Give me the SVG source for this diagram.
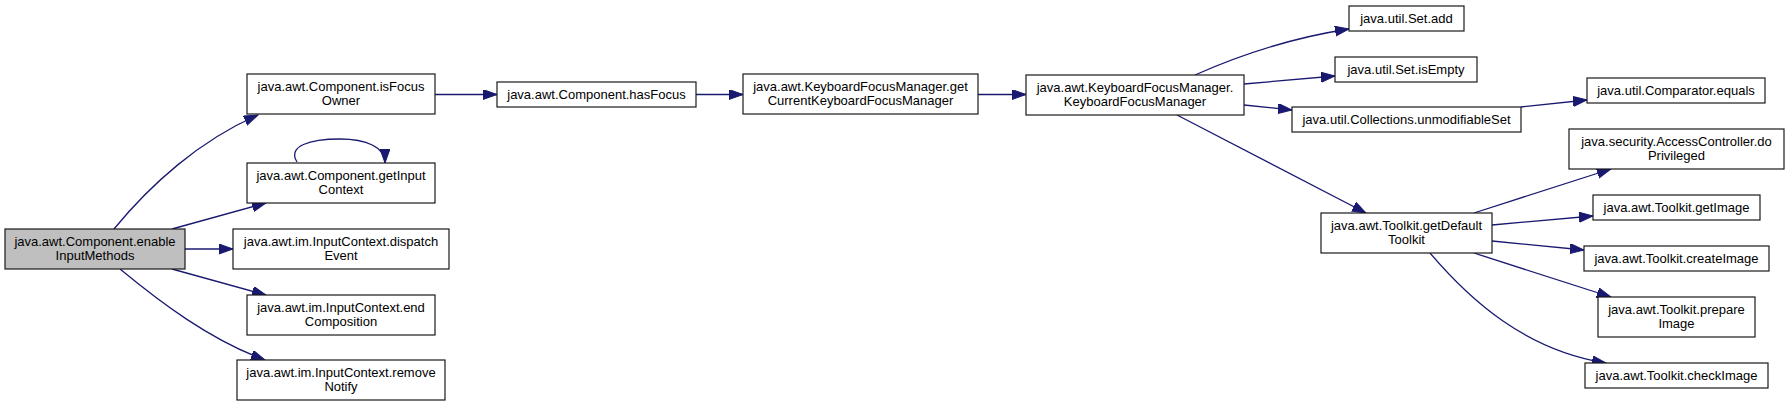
<svg xmlns="http://www.w3.org/2000/svg" width="1789" height="406" viewBox="0 0 1789 406">
<defs>
<style>
.n rect{fill:#ffffff;stroke:#1a1a1a;stroke-width:1.2}
.n.root rect{fill:#bfbfbf}
.n text{font-family:"Liberation Sans",Arial,sans-serif;font-size:13px;text-anchor:middle;fill:#000000}
.e path{fill:none;stroke:#191970;stroke-width:1.3;marker-end:url(#ah)}
</style>
<marker id="ah" markerUnits="userSpaceOnUse" markerWidth="15" markerHeight="11" refX="14" refY="5" orient="auto">
<path d="M0,0 L14,5 L0,10 z" fill="#191970" stroke="#191970" stroke-width="1"/>
</marker>
</defs>
<rect width="1789" height="406" fill="#ffffff"/>
<g id="edges" class="e">
<path d="M114,229 C150,185 200,140 258,115"/>
<path d="M172,229 L266,203"/>
<path d="M185,249 L233,249"/>
<path d="M172,269 L266,295"/>
<path d="M120,269 C160,302 210,340 265,360"/>
<path d="M297,162 C287,146 310,139 340,139 C366,139 385,147 385,163"/>
<path d="M435,94.5 L497,94.5"/>
<path d="M696,94.5 L743,94.5"/>
<path d="M978,94.5 L1026,94.5"/>
<path d="M1195,75 C1240,55 1290,38 1349,29"/>
<path d="M1244,84 L1335,76"/>
<path d="M1244,105 L1292,110"/>
<path d="M1521,107 L1587,100"/>
<path d="M1177,115 L1366,213"/>
<path d="M1474,213 L1611,169"/>
<path d="M1492,225 L1593,216"/>
<path d="M1492,241 L1584,250"/>
<path d="M1474,253 L1611,297"/>
<path d="M1430,253 C1470,300 1525,350 1606,363"/>
</g>
<g id="n_main" class="n root"><rect x="5" y="229" width="180" height="40"/><text x="95" y="246">java.awt.Component.enable</text><text x="95" y="259.5">InputMethods</text></g>
<g id="n_isFocusOwner" class="n"><rect x="247" y="74" width="188" height="40"/><text x="341" y="91">java.awt.Component.isFocus</text><text x="341" y="104.5">Owner</text></g>
<g id="n_getInputContext" class="n"><rect x="247" y="163" width="188" height="40"/><text x="341" y="180">java.awt.Component.getInput</text><text x="341" y="193.5">Context</text></g>
<g id="n_dispatchEvent" class="n"><rect x="233" y="229" width="216" height="40"/><text x="341" y="246">java.awt.im.InputContext.dispatch</text><text x="341" y="259.5">Event</text></g>
<g id="n_endComposition" class="n"><rect x="247" y="295" width="188" height="40"/><text x="341" y="312">java.awt.im.InputContext.end</text><text x="341" y="325.5">Composition</text></g>
<g id="n_removeNotify" class="n"><rect x="237" y="360" width="208" height="40"/><text x="341" y="377">java.awt.im.InputContext.remove</text><text x="341" y="390.5">Notify</text></g>
<g id="n_hasFocus" class="n"><rect x="497" y="82" width="199" height="25"/><text x="596.5" y="99">java.awt.Component.hasFocus</text></g>
<g id="n_getCurrentKFM" class="n"><rect x="743" y="74" width="235" height="40"/><text x="860.5" y="91">java.awt.KeyboardFocusManager.get</text><text x="860.5" y="104.5">CurrentKeyboardFocusManager</text></g>
<g id="n_KFM" class="n"><rect x="1026" y="75" width="218" height="40"/><text x="1135" y="92">java.awt.KeyboardFocusManager.</text><text x="1135" y="105.5">KeyboardFocusManager</text></g>
<g id="n_setAdd" class="n"><rect x="1349" y="6" width="115" height="25"/><text x="1406.5" y="23">java.util.Set.add</text></g>
<g id="n_setIsEmpty" class="n"><rect x="1335" y="57" width="142" height="25"/><text x="1406" y="74">java.util.Set.isEmpty</text></g>
<g id="n_unmodifiableSet" class="n"><rect x="1292" y="107" width="229" height="25"/><text x="1406.5" y="124">java.util.Collections.unmodifiableSet</text></g>
<g id="n_comparatorEquals" class="n"><rect x="1587" y="78" width="178" height="25"/><text x="1676" y="95">java.util.Comparator.equals</text></g>
<g id="n_doPrivileged" class="n"><rect x="1569" y="129" width="215" height="40"/><text x="1676.5" y="146">java.security.AccessController.do</text><text x="1676.5" y="159.5">Privileged</text></g>
<g id="n_getDefaultToolkit" class="n"><rect x="1321" y="213" width="171" height="40"/><text x="1406.5" y="230">java.awt.Toolkit.getDefault</text><text x="1406.5" y="243.5">Toolkit</text></g>
<g id="n_getImage" class="n"><rect x="1593" y="195" width="167" height="25"/><text x="1676.5" y="212">java.awt.Toolkit.getImage</text></g>
<g id="n_createImage" class="n"><rect x="1584" y="246" width="185" height="25"/><text x="1676.5" y="263">java.awt.Toolkit.createImage</text></g>
<g id="n_prepareImage" class="n"><rect x="1598" y="297" width="157" height="40"/><text x="1676.5" y="314">java.awt.Toolkit.prepare</text><text x="1676.5" y="327.5">Image</text></g>
<g id="n_checkImage" class="n"><rect x="1585" y="363" width="183" height="25"/><text x="1676.5" y="380">java.awt.Toolkit.checkImage</text></g>
</svg>
